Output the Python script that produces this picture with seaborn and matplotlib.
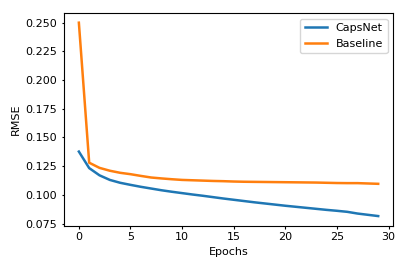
import numpy as np
import pandas as pd
import matplotlib
matplotlib.use("Agg")
import matplotlib.pyplot as plt
import seaborn as sns

# RMSE per epoch
epochs = list(range(30))
capsnet_rmse = [0.1377, 0.1233, 0.1170, 0.1130, 0.1105, 0.1087, 0.1070, 0.1055, 0.1040, 0.1027,
                0.1015, 0.1003, 0.0992, 0.0980, 0.0968, 0.0957, 0.0946, 0.0935, 0.0925, 0.0915,
                0.0905, 0.0896, 0.0887, 0.0878, 0.0869, 0.0861, 0.0852, 0.0837, 0.0826, 0.0815]
baseline_rmse = [0.2500, 0.1280, 0.1235, 0.1210, 0.1192, 0.1180, 0.1165, 0.1151, 0.1143, 0.1136,
                 0.1130, 0.1127, 0.1124, 0.1121, 0.1119, 0.1116, 0.1114, 0.1113, 0.1112, 0.1111,
                 0.1110, 0.1109, 0.1108, 0.1107, 0.1105, 0.1103, 0.1102, 0.1102, 0.1099, 0.1096]
ytick_labels = ["0.075", "0.100", "0.125", "0.150", "0.175", "0.200", "0.225", "0.250"]

df = pd.DataFrame({
    "Epochs": epochs * 2,
    "RMSE": capsnet_rmse + baseline_rmse,
    "model": ["CapsNet"] * 30 + ["Baseline"] * 30,
})

plt.rcParams["font.size"] = 8
plt.rcParams["xtick.major.size"] = 1.8
plt.rcParams["ytick.major.size"] = 1.8
plt.rcParams["xtick.major.pad"] = 3
plt.rcParams["ytick.major.pad"] = 3
plt.rcParams["axes.labelpad"] = 3

fig, ax = plt.subplots(figsize=(4.07, 2.71), dpi=100)
sns.lineplot(data=df, x="Epochs", y="RMSE", hue="model",
             palette=["#1f77b4", "#ff7f0e"], linewidth=1.8, ax=ax)
ax.set_yticks([float(t) for t in ytick_labels])
ax.set_yticklabels(ytick_labels)
ax.set_xticks([0, 5, 10, 15, 20, 25, 30])
ax.legend(title=None, loc="upper right")
fig.subplots_adjust(left=0.157, right=0.966, top=0.952, bottom=0.167)
fig.savefig("out.png", dpi=100)
